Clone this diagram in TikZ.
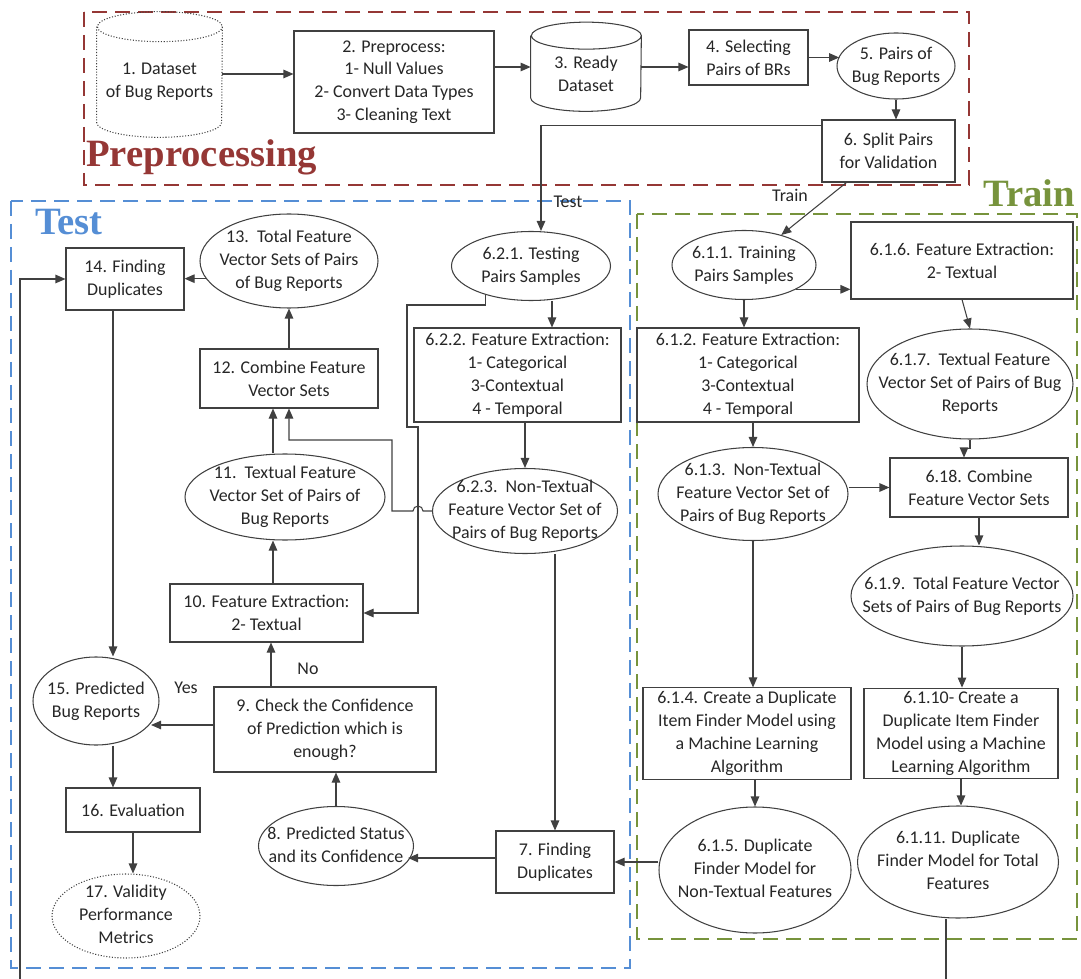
\documentclass[tikz,border=0pt]{standalone}
\usepackage{fontspec}
\setmainfont{Carlito}
\newfontfamily\headfont{Liberation Serif}
\usetikzlibrary{shapes.geometric,arrows.meta,calc}
\definecolor{linegray}{HTML}{404040}
\definecolor{prered}{HTML}{953735}
\definecolor{testblue}{HTML}{558ED5}
\definecolor{traingreen}{HTML}{77933C}
% text of an ellipse, kept from growing the shape
\newcommand{\inell}[1]{\makebox[0pt]{\raisebox{0pt}[0pt][0pt]{\raisebox{-0.25em}{\begin{tabular}{@{}c@{}}#1\end{tabular}}}}}
% cylinder round a plain node: top ellipse on its north side, bottom on its south side
\newcommand{\dbcyl}[4][]{\draw[linegray,line width=0.6pt,#1] (#2.north west) -- ($(#2.south west)+(0,#4)$) arc[start angle=180,end angle=360,x radius=#3,y radius=#4] -- (#2.north east) arc[start angle=0,end angle=360,x radius=#3,y radius=#4];}

\begin{document}
\begin{tikzpicture}[
	font=\fontsize{10.2}{13}\selectfont,
	box/.style={draw=linegray,line width=0.6pt,rectangle,align=center,inner sep=2pt,text=black!85},
	blob/.style={draw=linegray,line width=0.6pt,ellipse,inner sep=0pt,text=black!85},
	flow/.style={draw=linegray,line width=0.6pt,-{Triangle[length=2mm,width=1.7mm]}},
	area/.style={line width=1.5pt,dash pattern=on 3mm off 1.6mm},
	heading/.style={font=\headfont\bfseries\fontsize{22}{24}\selectfont,anchor=base west,inner sep=0pt}]
	\useasboundingbox (0,0) rectangle (21.62,-19.58);
	\draw[area,prered] (1.68,-0.24) rectangle (19.38,-3.70);
	\draw[area,testblue] (0.22,-4.02) rectangle (12.60,-19.36);
	\draw[area,traingreen] (12.74,-4.28) rectangle (21.54,-18.78);
	\node[heading,text=prered] (tprep) at (1.72,-3.34) {Preprocessing};
	\node[heading,text=testblue] (ttest) at (0.70,-4.70) {Test};
	\node[heading,text=traingreen] (ttrain) at (19.66,-4.14) {Train};

	\node[align=center,minimum width=2.5cm,minimum height=2.2cm,text=black!85] (ds) at (3.19,-1.64) {1. Dataset\\of Bug Reports};
	\dbcyl[densely dotted]{ds}{1.25cm}{0.3cm}
	\node[box,minimum width=4cm,minimum height=2.04cm] (pp) at (7.88,-1.64) {2. Preprocess:\\1- Null Values\\2- Convert Data Types\\3- Cleaning Text};
	\node[align=center,minimum width=2.2cm,minimum height=1.5cm,text=black!85] (rd) at (11.72,-1.47) {3. Ready\\Dataset};
	\dbcyl{rd}{1.1cm}{0.27cm}
	\node[box,minimum width=2.38cm,minimum height=1.1cm] (sel) at (14.97,-1.15) {4. Selecting\\Pairs of BRs};
	\node[blob,minimum width=2.36cm,minimum height=1.32cm] (prs) at (17.92,-1.32) {\inell{5. Pairs of\\Bug Reports}};
	\node[box,minimum width=2.66cm,minimum height=1.24cm] (spl) at (17.77,-3.02) {6. Split Pairs\\for Validation};

	\node[blob,minimum width=3.18cm,minimum height=1.38cm] (tst) at (10.62,-5.32) {\inell{6.2.1. Testing\\Pairs Samples}};
	\node[box,minimum width=4.14cm,minimum height=1.88cm] (fx622) at (10.35,-7.50) {6.2.2. Feature Extraction:\\1- Categorical\\3-Contextual\\4 - Temporal};
	\node[blob,minimum width=3.7cm,minimum height=1.7cm] (nt623) at (10.50,-10.22) {\inell{6.2.3.\ \ Non-Textual\\Feature Vector Set of\\Pairs of Bug Reports}};
	\node[blob,minimum width=3.56cm,minimum height=1.88cm] (tv13) at (5.78,-5.22) {\inell{13.\ \ Total Feature\\Vector Sets of Pairs\\of Bug Reports}};
	\node[box,minimum width=2.36cm,minimum height=1.24cm] (fd14) at (2.50,-5.58) {14. Finding\\Duplicates};
	\node[box,minimum width=3.56cm,minimum height=1.18cm] (cb12) at (5.78,-7.57) {12. Combine Feature\\Vector Sets};
	\node[blob,minimum width=4cm,minimum height=1.72cm] (tx11) at (5.70,-9.94) {\inell{11.\ \ Textual Feature\\Vector Set of Pairs of\\Bug Reports}};
	\node[box,minimum width=3.86cm,minimum height=1.16cm] (fe10) at (5.33,-12.26) {10. Feature Extraction:\\2- Textual};
	\node[box,minimum width=4.44cm,minimum height=1.7cm] (ck9) at (6.50,-14.59) {9. Check the Confidence\\of Prediction which is\\enough?};
	\node[blob,minimum width=2.52cm,minimum height=1.76cm] (pb15) at (1.92,-14.02) {\inell{15. Predicted\\Bug Reports}};
	\node[box,minimum width=2.68cm,minimum height=0.88cm] (ev16) at (2.66,-16.20) {16. Evaluation};
	\node[blob,densely dotted,minimum width=2.96cm,minimum height=1.68cm] (vm17) at (2.52,-18.32) {\inell{17. Validity\\Performance\\Metrics}};
	\node[blob,minimum width=3.1cm,minimum height=1.58cm] (ps8) at (6.72,-16.92) {\inell{8. Predicted Status\\and its Confidence}};
	\node[box,minimum width=2.36cm,minimum height=1.24cm] (fd7) at (11.10,-17.24) {7. Finding\\Duplicates};

	\node[blob,minimum width=2.88cm,minimum height=1.38cm] (trn) at (14.88,-5.30) {\inell{6.1.1. Training\\Pairs Samples}};
	\node[box,minimum width=4.44cm,minimum height=1.54cm] (fx616) at (19.24,-5.21) {6.1.6. Feature Extraction:\\2- Textual};
	\node[box,minimum width=4.44cm,minimum height=1.88cm] (fx612) at (14.96,-7.50) {6.1.2. Feature Extraction:\\1- Categorical\\3-Contextual\\4 - Temporal};
	\node[blob,minimum width=4.12cm,minimum height=2.2cm] (tf617) at (19.40,-7.68) {\inell{6.1.7.\ \ Textual Feature\\Vector Set of Pairs of Bug\\Reports}};
	\node[blob,minimum width=3.8cm,minimum height=1.86cm] (nt613) at (15.06,-9.88) {\inell{6.1.3.\ \ Non-Textual\\Feature Vector Set of\\Pairs of Bug Reports}};
	\node[box,minimum width=3.56cm,minimum height=1.18cm] (cb618) at (19.58,-9.75) {6.18. Combine\\Feature Vector Sets};
	\node[blob,minimum width=4.44cm,minimum height=2cm] (tt619) at (19.24,-11.92) {\inell{6.1.9.\ \ Total Feature Vector\\Sets of Pairs of Bug Reports}};
	\node[box,minimum width=4.16cm,minimum height=1.74cm] (cm614) at (14.94,-14.67) {6.1.4. Create a Duplicate\\Item Finder Model using\\a Machine Learning\\Algorithm};
	\node[box,minimum width=3.88cm,minimum height=1.74cm] (cm6110) at (19.22,-14.67) {6.1.10- Create a\\Duplicate Item Finder\\Model using a Machine\\Learning Algorithm};
	\node[blob,minimum width=3.84cm,minimum height=2.52cm] (dm615) at (15.10,-17.40) {\inell{6.1.5. Duplicate\\Finder Model for\\Non-Textual Features}};
	\node[blob,minimum width=4.02cm,minimum height=2.24cm] (dm6111) at (19.16,-17.24) {\inell{6.1.11. Duplicate\\Finder Model for Total\\Features}};

	\node[text=black!85] (lbtest) at (11.36,-4.04) {Test};
	\node[text=black!85] (lbtrain) at (15.80,-3.90) {Train};
	\node[text=black!85] (lbyes) at (3.72,-13.76) {Yes};
	\node[text=black!85] (lbno) at (6.16,-13.38) {No};

	\draw[flow] ([yshift=0.16cm]ds.east) -- ([yshift=0.16cm]ds.east -| pp.west);
	\draw[flow] ([yshift=0.13cm]rd.west -| pp.east) -- ([yshift=0.13cm]rd.west);
	\draw[flow] ([yshift=0.13cm]rd.east) -- ([yshift=0.13cm]rd.east -| sel.west);
	\draw[flow] (sel.east) -- (sel.east -| prs.170);
	\draw[flow] (prs.south) -- (prs.south |- spl.north);
	\draw[flow] ([yshift=-0.12cm]spl.north west) -| ([xshift=0.2cm]tst.north);
	\draw[flow] ([xshift=0.5cm]spl.south west) -- (trn);

	\draw[flow] (tv13.192) -- (tv13.192 -| fd14.east);
	\draw[flow] (cb12.north) -- (tv13.south);
	\draw[flow] ([xshift=-0.32cm]cb12.south |- tx11.north) -- ([xshift=-0.32cm]cb12.south);
	\draw[flow] ([xshift=0.13cm]fe10.north) -- ([xshift=0.13cm]fe10.north |- tx11.south);
	\draw[flow] (tst.212) |- (8.14,-6.10) |- (8.36,-8.54) |- (fe10.east);
	\draw[flow] (nt623.west) -- (8.46,-10.22) arc[start angle=0,end angle=180,radius=0.1cm] -- (7.84,-10.22) -- (7.84,-8.80) -| (cb12.south);
	\draw[flow] ([xshift=0.42cm]tst.south) -- ([xshift=0.42cm]tst.south |- fx622.north);
	\draw[flow] (nt623.north |- fx622.south) -- (nt623.north);
	\draw[flow] (fd7.north |- nt623.south) -- (fd7.north);
	\draw[flow] ([xshift=-0.24cm]fd14.south) -- ([xshift=-0.24cm]fd14.south |- pb15.north);
	\draw[flow] ([xshift=0.34cm]pb15.south) -- ([xshift=0.34cm]pb15.south |- ev16.north);
	\draw[flow] (ev16.south) -- (ev16.south |- vm17.north);
	\draw[flow] ([yshift=0.09cm]ck9.west) -- ([yshift=0.09cm]ck9.west -| pb15.338);
	\draw[flow] ([xshift=-1.08cm]ck9.north) -- ([xshift=-1.08cm]ck9.north |- fe10.south);
	\draw[flow] (ps8.north) -- (ps8.north |- ck9.south);
	\draw[flow] ([yshift=0.08cm]fd7.west) -- ([yshift=0.08cm]fd7.west -| ps8.348);
	\draw[flow] (dm615.west |- fd7.east) -- (fd7.east);
	\draw[flow] ([xshift=-0.24cm]dm6111.south) |- (0.40,-20.20) |- (fd14.west);

	\draw[flow] (trn.335) -- (trn.335 -| fx616.west);
	\draw[flow] (trn.south) -- (trn.south |- fx612.north);
	\draw[flow] (fx616.south) -- (tf617.north);
	\draw[flow] (nt613.north |- fx612.south) -- (nt613.north);
	\draw[flow] (cb618.west -| nt613.east) -- (cb618.west);
	\draw[flow] (tf617.south) -- ++(0,-0.18) -| ([xshift=-0.3cm]cb618.north);
	\draw[flow] (cb618.south) -- (cb618.south |- tt619.north);
	\draw[flow] (nt613.south) -- (nt613.south |- cm614.north);
	\draw[flow] (tt619.south) -- (tt619.south |- cm6110.north);
	\draw[flow] (dm615.north |- cm614.south) -- (dm615.north);
	\draw[flow] (cm6110.south) -- (cm6110.south |- dm6111.north);
\end{tikzpicture}
\end{document}
